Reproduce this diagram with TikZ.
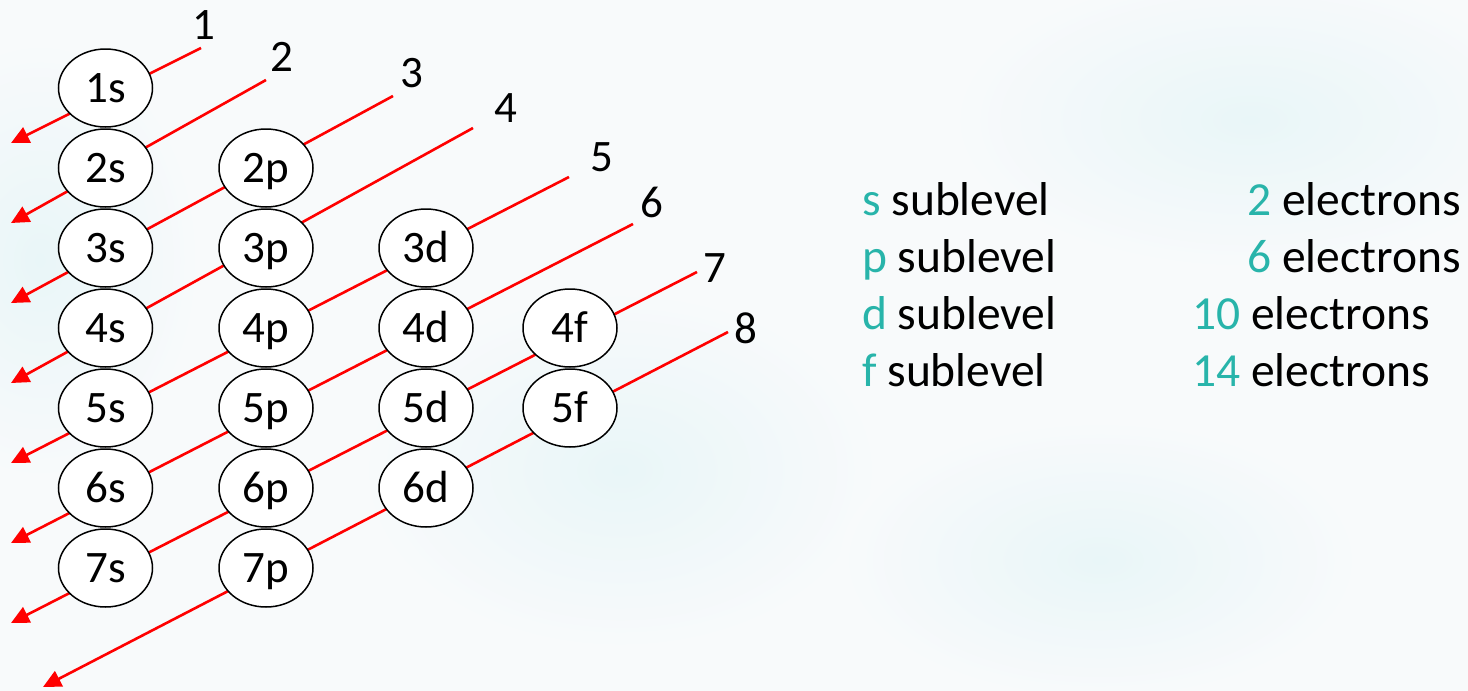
\documentclass[tikz,border=0pt]{standalone}
\usepackage{fontspec}
\setmainfont{Carlito}
\usetikzlibrary{arrows.meta,shapes.geometric}
\definecolor{rayred}{RGB}{255,0,0}
\definecolor{subteal}{RGB}{40,180,170}
\definecolor{paper}{RGB}{248,250,251}
\definecolor{mist}{RGB}{233,246,248}
\begin{document}
\begin{tikzpicture}[x=1pt,y=-1pt,
  orbital/.style={ellipse, draw=black, line width=1.5pt, fill=white,
    minimum width=94pt, minimum height=78pt, inner sep=0pt,
    text height=29pt, text depth=0pt, font=\fontsize{45}{54}\selectfont},
  ray/.style={draw=rayred, line width=2.6pt, -{Triangle[length=18pt,width=17pt]}},
  shellnum/.style={anchor=base, inner sep=0pt, font=\fontsize{45}{54}\selectfont},
  keytext/.style={anchor=base west, inner sep=0pt, font=\fontsize{47.5}{56}\selectfont}
]
% page and soft background
\useasboundingbox (0,0) rectangle (1468,691);
\fill[paper] (0,0) rectangle (1468,691);
\begin{scope}
  \clip (0,0) rectangle (1468,691);
  \shade[inner color=mist, outer color=paper] (40,260) ellipse [x radius=160pt, y radius=220pt];
  \shade[inner color=mist, outer color=paper] (620,470) ellipse [x radius=260pt, y radius=180pt];
  \shade[inner color=mist, outer color=paper] (1250,120) ellipse [x radius=300pt, y radius=150pt];
  \shade[inner color=mist, outer color=paper] (1100,560) ellipse [x radius=260pt, y radius=140pt];
\end{scope}

% ends of the diagonal rays
\coordinate (s1) at (201,48);  \coordinate (t1) at (11,143);
\coordinate (s2) at (266,80);  \coordinate (t2) at (11,223);
\coordinate (s3) at (393,96);  \coordinate (t3) at (11,303);
\coordinate (s4) at (473,128); \coordinate (t4) at (11,383);
\coordinate (s5) at (569,177); \coordinate (t5) at (11,463);
\coordinate (s6) at (633,224); \coordinate (t6) at (11,543);
\coordinate (s7) at (697,272); \coordinate (t7) at (11,623);
\coordinate (s8) at (728,332); \coordinate (t8) at (43,687);
\foreach \k in {1,...,8} { \draw[ray] (s\k) -- (t\k); }

% shell numbers at the ray ends
\node[shellnum] (n1) at (204,39)  {1};
\node[shellnum] (n2) at (282,71)  {2};
\node[shellnum] (n3) at (412,87)  {3};
\node[shellnum] (n4) at (506,122) {4};
\node[shellnum] (n5) at (602,171) {5};
\node[shellnum] (n6) at (652,217) {6};
\node[shellnum] (n7) at (715,282) {7};
\node[shellnum] (n8) at (746,343) {8};

% sublevel ellipses
\foreach \n in {1,...,7} {
  \node[orbital] (o\n s) at (105.5, 88+80*\n-80) {\n s};
}
\foreach \n in {2,...,7} {
  \node[orbital] (o\n p) at (266, 88+80*\n-80) {\n p};
}
\foreach \n in {3,...,6} {
  \node[orbital] (o\n d) at (426, 88+80*\n-80) {\n d};
}
\foreach \n in {4,5} {
  \node[orbital] (o\n f) at (570, 88+80*\n-80) {\n f};
}

% capacity key
\node[keytext] (ks) at (862,215) {\textcolor{subteal}{s} sublevel};
\node[keytext] (kp) at (862,272) {\textcolor{subteal}{p} sublevel};
\node[keytext] (kd) at (862,329) {\textcolor{subteal}{d} sublevel};
\node[keytext] (kf) at (862,386) {\textcolor{subteal}{f} sublevel};
\node[keytext] (es) at (1247,215) {\textcolor{subteal}{2} electrons};
\node[keytext] (ep) at (1247,272) {\textcolor{subteal}{6} electrons};
\node[keytext] (ed) at (1192,329) {\textcolor{subteal}{10} electrons};
\node[keytext] (ef) at (1192,386) {\textcolor{subteal}{14} electrons};
\end{tikzpicture}
\end{document}
